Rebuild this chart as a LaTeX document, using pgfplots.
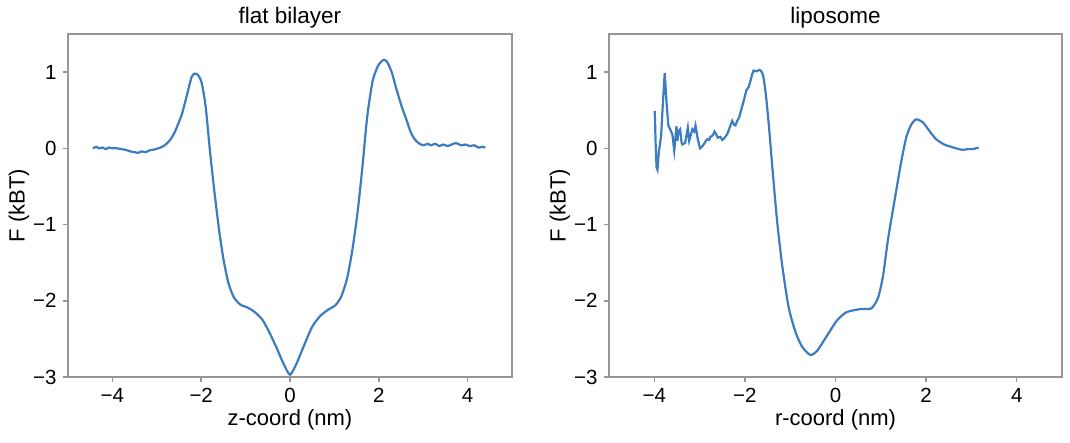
\documentclass[border=0pt]{standalone}
\usepackage{pgfplots}
\pgfplotsset{compat=1.18}
\usepackage{fontspec}
\setmainfont{Liberation Sans}
\definecolor{curve}{RGB}{60,125,192}
\definecolor{frame}{RGB}{150,150,150}
\begin{document}
\begin{tikzpicture}
\useasboundingbox (-68pt,-65pt) rectangle (1002pt,377pt);
\pgfplotsset{
  every axis/.append style={
    scale only axis, height=343pt,
    xmin=-5, xmax=5, ymin=-3, ymax=1.5,
    xtick={-4,-2,0,2,4}, xticklabels={−4,−2,0,2,4},
    ytick={-3,-2,-1,0,1}, yticklabels={−3,−2,−1,0,1},
    tick align=outside, tick pos=left,
    major tick length=5pt,
    every tick/.style={frame, line width=1.5pt},
    axis line style={frame, line width=1.6pt},
    tick label style={font=\fontsize{20.5}{24}\selectfont},
    label style={font=\fontsize{22}{26}\selectfont},
    title style={font=\fontsize{22.5}{26}\selectfont, yshift=-4pt},
    xticklabel style={yshift=-3pt},
    yticklabel style={xshift=-3pt},
    xlabel style={yshift=0pt},
    ylabel style={yshift=-3pt},
    ylabel={F (kBT)},
  }
}
\begin{axis}[at={(0pt,0pt)}, anchor=south west, width=444pt,
  title={flat bilayer}, xlabel={z-coord (nm)}]
\addplot[curve, line width=2.2pt, smooth, tension=0.4] coordinates {
(-4.44,0.00) (-4.36,0.02) (-4.30,0.00) (-4.22,0.01) (-4.15,-0.01) (-4.08,0.01) (-4.00,0.00)
(-3.90,0.00) (-3.80,-0.01) (-3.70,-0.02) (-3.60,-0.04) (-3.50,-0.05) (-3.42,-0.06) (-3.34,-0.04)
(-3.25,-0.05) (-3.18,-0.03) (-3.10,-0.02) (-3.02,-0.01) (-2.92,0.01) (-2.82,0.04) (-2.70,0.11) (-2.59,0.22) (-2.44,0.44)
(-2.32,0.70) (-2.22,0.93) (-2.15,0.98) (-2.07,0.96) (-1.99,0.86) (-1.90,0.55) (-1.80,-0.05)
(-1.70,-0.58) (-1.60,-1.06) (-1.50,-1.45) (-1.39,-1.76) (-1.27,-1.95) (-1.12,-2.05) (-0.95,-2.09) (-0.79,-2.15)
(-0.62,-2.25) (-0.46,-2.42) (-0.30,-2.62) (-0.15,-2.82) (0.00,-2.97) (0.15,-2.82) (0.32,-2.58)
(0.50,-2.34) (0.68,-2.20) (0.85,-2.12) (1.02,-2.06) (1.15,-1.95) (1.28,-1.72) (1.40,-1.35)
(1.52,-0.85) (1.63,-0.25) (1.74,0.42) (1.86,0.88) (1.98,1.08) (2.10,1.16) (2.18,1.14)
(2.29,1.00) (2.40,0.77) (2.52,0.54) (2.62,0.38) (2.72,0.21) (2.82,0.11) (2.92,0.06) (3.01,0.04)
(3.10,0.06) (3.18,0.04) (3.27,0.06) (3.36,0.03) (3.45,0.05) (3.55,0.03) (3.64,0.05) (3.74,0.07) (3.85,0.04) (3.95,0.05) (4.05,0.03)
(4.15,0.04) (4.25,0.01) (4.33,0.02) (4.40,0.01)
};
\end{axis}
\begin{axis}[at={(541pt,0pt)}, anchor=south west, width=453pt,
  title={liposome}, xlabel={r-coord (nm)}]
\addplot[curve, line width=2.2pt] coordinates {
(-3.99,0.49) (-3.97,0.05) (-3.95,-0.25) (-3.93,-0.28) (-3.90,-0.05) (-3.85,0.16) (-3.81,0.60) (-3.77,0.99)
(-3.73,0.60) (-3.69,0.30) (-3.65,0.25) (-3.60,0.18) (-3.56,-0.03) (-3.51,0.29) (-3.49,0.10) (-3.47,0.22)
(-3.43,0.25) (-3.40,0.08) (-3.38,0.05) (-3.32,0.07) (-3.26,0.27) (-3.23,0.10) (-3.21,0.14)
(-3.16,0.25) (-3.12,0.22) (-3.09,0.30) (-3.04,0.12) (-2.99,0.00) (-2.95,0.02) (-2.90,0.06)
(-2.86,0.10) (-2.83,0.12) (-2.79,0.11) (-2.76,0.15) (-2.71,0.17) (-2.67,0.22) (-2.63,0.18) (-2.60,0.14)
(-2.54,0.15) (-2.50,0.11) (-2.46,0.13) (-2.42,0.16) (-2.38,0.20) (-2.32,0.30) (-2.28,0.36) (-2.24,0.31)
(-2.21,0.30) (-2.17,0.36) (-2.13,0.40) (-2.06,0.55) (-2.01,0.66) (-1.97,0.76) (-1.92,0.80)
(-1.88,0.88) (-1.84,0.97) (-1.81,1.02) (-1.74,1.01) (-1.68,1.03) (-1.65,1.02)
};
\addplot[curve, line width=2.2pt, smooth, tension=0.4] coordinates {
(-1.65,1.02) (-1.60,0.96) (-1.54,0.72) (-1.47,0.29)
(-1.38,-0.35) (-1.29,-0.95) (-1.18,-1.52) (-1.04,-2.07) (-0.89,-2.40) (-0.74,-2.60)
(-0.56,-2.71) (-0.41,-2.66) (-0.19,-2.46) (0.03,-2.26) (0.24,-2.15) (0.54,-2.11)
(0.79,-2.10) (0.94,-1.96) (1.05,-1.67) (1.16,-1.19) (1.31,-0.66) (1.45,-0.18)
(1.56,0.14) (1.67,0.31) (1.78,0.38) (1.93,0.34) (2.07,0.23) (2.22,0.12)
(2.40,0.05) (2.55,0.02) (2.66,0.00) (2.81,-0.02) (2.92,-0.01) (3.03,-0.01) (3.16,0.01)
};
\end{axis}
\end{tikzpicture}
\end{document}
